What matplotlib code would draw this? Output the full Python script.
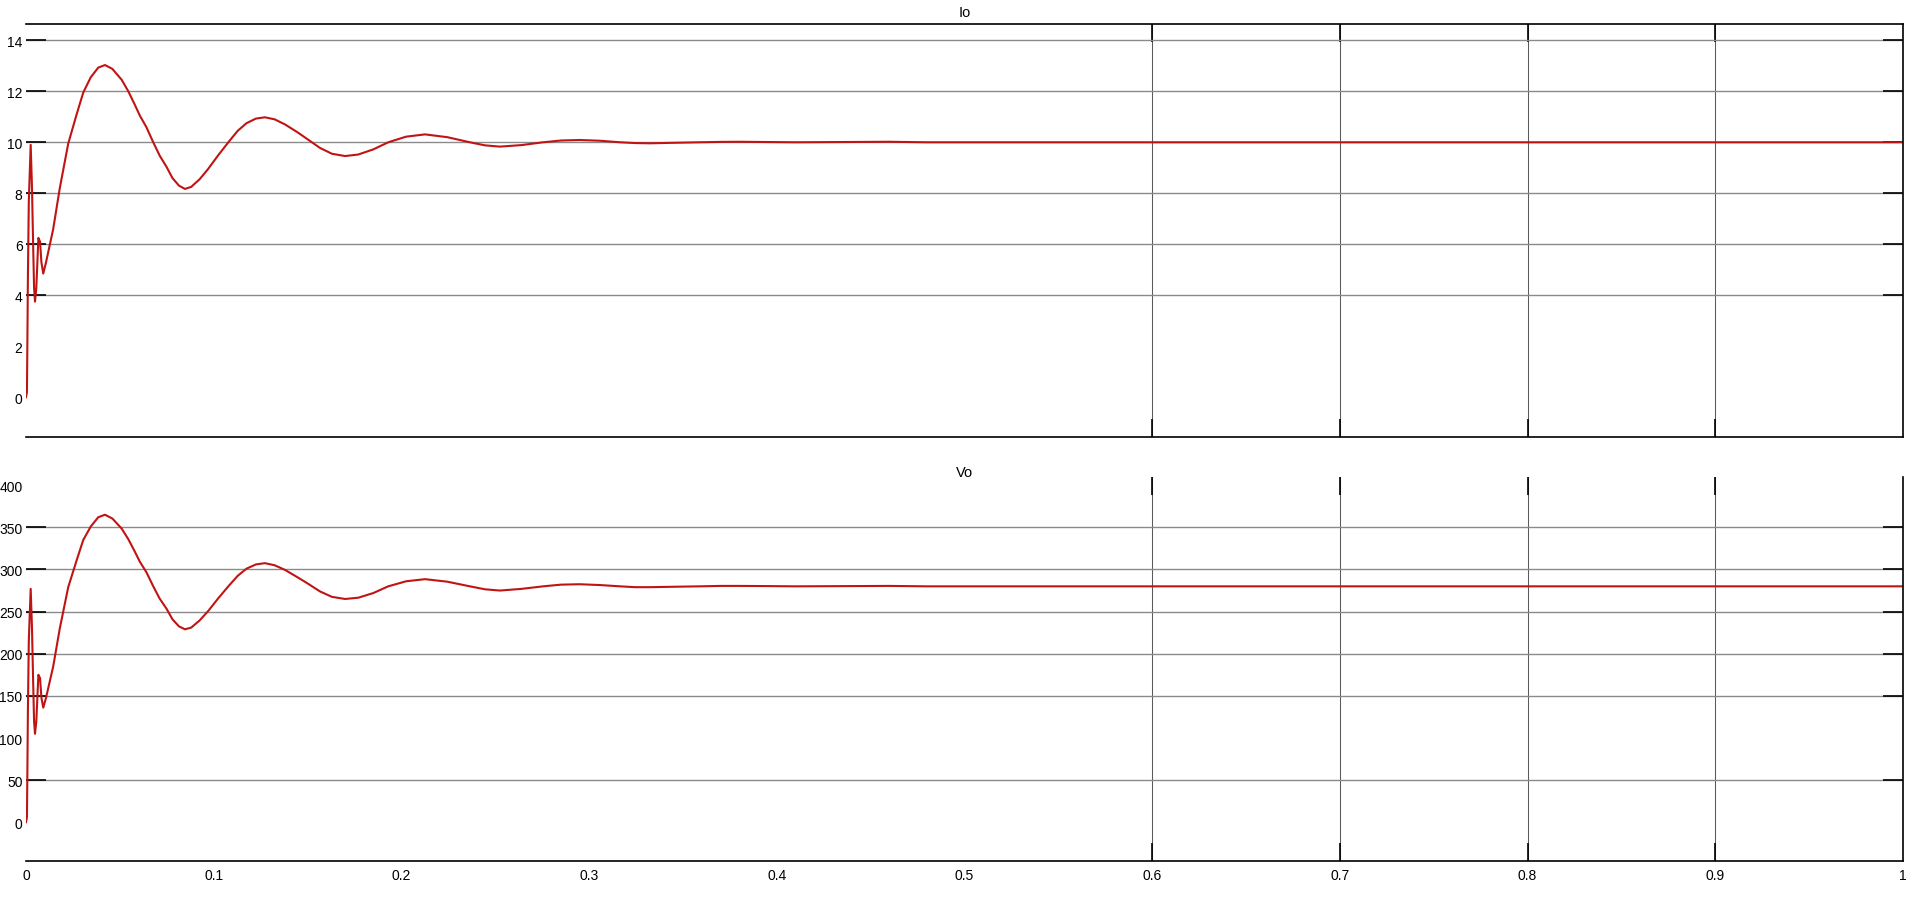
# ----------------------------------------------------------------------
# Scope plot of output current Io and output voltage Vo
# ----------------------------------------------------------------------

import matplotlib
matplotlib.use("Agg")
import matplotlib.pyplot as plt

plt.rcParams['font.family'] = ['Liberation Sans', 'DejaVu Sans']

# ----------------------------------------------------------------------
# Data
# ----------------------------------------------------------------------
t = [0.0, 0.0005, 0.0007, 0.001, 0.0015, 0.0025, 0.0032, 0.0038, 0.0043,
     0.0048, 0.0055, 0.0066, 0.0075, 0.0082, 0.0092, 0.0107, 0.0145, 0.018,
     0.0225, 0.027, 0.0305, 0.0345, 0.0385, 0.0421, 0.046, 0.051, 0.0545,
     0.0578, 0.0607, 0.0641, 0.0678, 0.0712, 0.075, 0.078, 0.0815, 0.0847,
     0.088, 0.0925, 0.097, 0.1025, 0.1078, 0.1128, 0.1175, 0.1225, 0.1273,
     0.1325, 0.138, 0.1445, 0.150, 0.1566, 0.163, 0.170, 0.177, 0.185,
     0.193, 0.2025, 0.2126, 0.2245, 0.2365, 0.2445, 0.2525, 0.264, 0.2755,
     0.285, 0.295, 0.306, 0.3165, 0.3245, 0.3324, 0.345, 0.359, 0.37,
     0.38, 0.395, 0.41, 0.46, 0.48, 1.0]

io = [0.0, 0.2, 1.8, 4.6, 7.7, 9.9, 8.2, 6.0, 4.3,
      3.75, 4.3, 6.25, 6.1, 5.3, 4.85, 5.3, 6.6, 8.2,
      9.95, 11.1, 11.95, 12.55, 12.93, 13.03, 12.88, 12.45, 12.0,
      11.5, 11.04, 10.6, 10.0, 9.48, 9.02, 8.6, 8.3, 8.17,
      8.25, 8.55, 8.95, 9.5, 10.0, 10.45, 10.75, 10.93, 10.98,
      10.9, 10.7, 10.4, 10.12, 9.78, 9.55, 9.46, 9.52, 9.72,
      10.0, 10.22, 10.31, 10.2, 10.0, 9.88, 9.83, 9.89, 10.0,
      10.07, 10.09, 10.06, 10.0, 9.97, 9.96, 9.98, 10.0, 10.015,
      10.02, 10.01, 10.0, 10.02, 10.0, 10.0]

vo = [0, 6, 50, 129, 216, 277, 230, 168, 120,
      105, 120, 175, 171, 148, 136, 148, 185, 230,
      279, 311, 335, 351, 362, 365, 360.5, 348.5, 336,
      322, 309, 297, 280, 265.5, 253, 241, 232.5, 229,
      231, 239.5, 250.5, 266, 280, 292.5, 301, 306, 307.5,
      305, 299.5, 291, 283.5, 274, 267.5, 265, 266.5, 272,
      280, 286, 288.5, 285.5, 280, 276.5, 275, 277, 280,
      282, 282.5, 281.5, 280, 279, 279, 279.5, 280, 280.5,
      280.5, 280.3, 280, 280.5, 280, 280]

xticks = [0, 0.1, 0.2, 0.3, 0.4, 0.5, 0.6, 0.7, 0.8, 0.9, 1]
xgrid = [0.6, 0.7, 0.8, 0.9]

io_ticks = [0, 2, 4, 6, 8, 10, 12, 14]
io_grid = [4, 6, 8, 10, 12, 14]

vo_ticks = [0, 50, 100, 150, 200, 250, 300, 350, 400]
vo_grid = [50, 150, 200, 250, 300, 350]

# ----------------------------------------------------------------------
# Plotting
# ----------------------------------------------------------------------
fig = plt.figure(figsize=(19.2, 9.04), dpi=100)
ax1 = fig.add_axes([0.01354, 0.51549, 0.97756, 0.45686])
ax2 = fig.add_axes([0.01354, 0.04681, 0.97756, 0.42409])

line_col = '#c01414'


def style_axes(ax, yticks, ygrid, ylim, title, title_pad, show_xlabels, top_spine):
    ax.set_xlim(0, 1)
    ax.set_ylim(*ylim)
    ax.set_xticks(xticks)
    ax.set_xticklabels([('%g' % v) for v in xticks] if show_xlabels else [])
    ax.set_yticks(yticks)
    ax.set_yticklabels([str(v) for v in yticks])
    ax.tick_params(which='major', length=0, labelsize=10, pad=2.5,
                   colors='black')
    ax.tick_params(axis='x', which='major', pad=5)
    # tick marks and grid only where the scope shows them
    ax.xaxis.remove_overlapping_locs = False
    ax.yaxis.remove_overlapping_locs = False
    ax.set_xticks(xgrid, minor=True)
    ax.set_yticks(ygrid, minor=True)
    ax.tick_params(axis='x', which='minor', direction='in', length=13,
                   width=1.2, top=True, bottom=True)
    ax.tick_params(axis='y', which='minor', direction='in', length=14.5,
                   width=1.2, left=True, right=True)
    ax.grid(axis='y', which='minor', color='#8a8a8a', linewidth=1.0)
    ax.grid(axis='x', which='minor', color='#5a5a5a', linewidth=0.75)
    ax.set_axisbelow(True)
    ax.spines['left'].set_visible(False)
    ax.spines['top'].set_visible(top_spine)
    for s in ['top', 'bottom', 'right']:
        ax.spines[s].set_linewidth(1.2)
    ax.set_title(title, fontsize=10.5, pad=title_pad)


ax1.plot(t, io, color=line_col, linewidth=1.5, solid_joinstyle='round')
style_axes(ax1, io_ticks, io_grid, (-1.56, 14.64), 'Io', 6, False, True)

ax2.plot(t, vo, color=line_col, linewidth=1.5, solid_joinstyle='round')
style_axes(ax2, vo_ticks, vo_grid, (-45.6, 409.4), 'Vo', 1, True, False)

fig.savefig('out.png', dpi=100)
plt.close()
